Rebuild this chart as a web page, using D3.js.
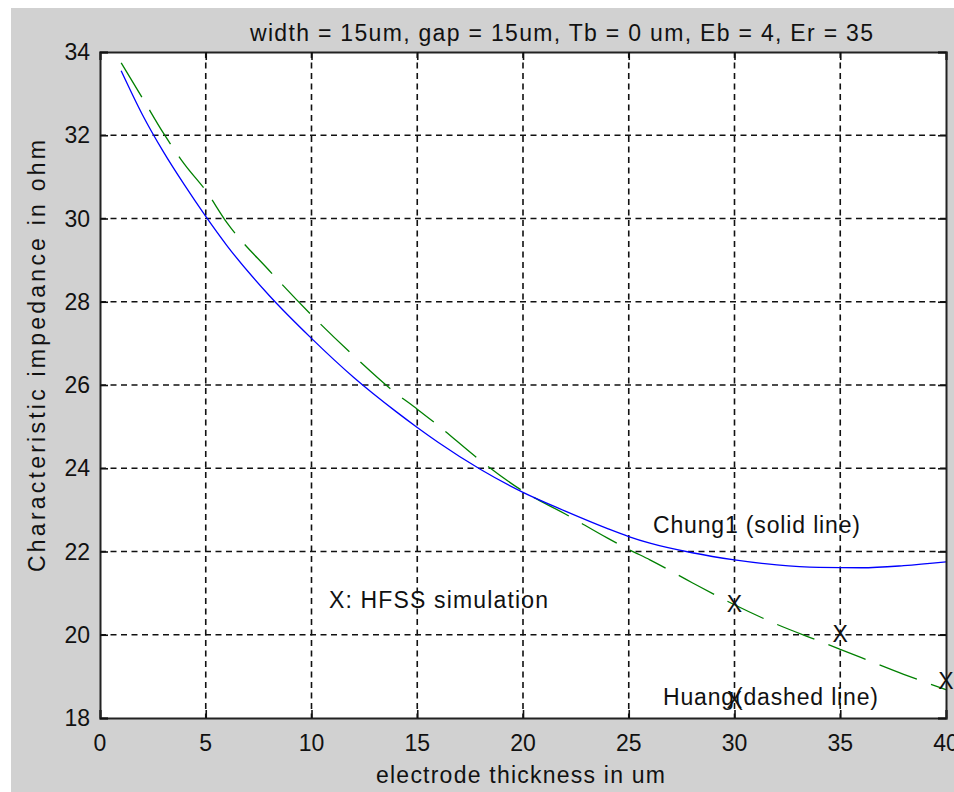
<!DOCTYPE html>
<html>
<head>
<meta charset="utf-8">
<script src="https://cdn.jsdelivr.net/npm/d3@7"></script>
<style>
  html, body { margin: 0; padding: 0; background: #fff; }
  svg { display: block; }
  text { font-family: "Liberation Sans", Arial, sans-serif; fill: #111; }
</style>
</head>
<body>
<svg id="chart"></svg>
<script>
// electrode thickness (um)
const chungX = [1, 2, 3, 4, 5, 6, 8, 10, 12, 14, 15, 16, 18, 20, 22, 24, 25, 26, 28, 30, 32, 34, 36, 38, 40];
const chungZ = [33.55, 32.5, 31.6, 30.8, 30.05, 29.35, 28.15, 27.12, 26.18, 25.36, 24.98, 24.62, 23.97, 23.42, 22.97, 22.55, 22.36, 22.2, 21.97, 21.8, 21.68, 21.62, 21.61, 21.66, 21.75];

const huangX = [1, 2, 3, 4, 5, 6, 8, 10, 12, 14, 15, 16, 18, 20, 22, 24, 25, 26, 28, 30, 32, 34, 35, 36, 38, 40];
const huangZ = [33.74, 32.9, 32.05, 31.3, 30.67, 29.9, 28.75, 27.68, 26.7, 25.8, 25.42, 25.02, 24.18, 23.45, 22.9, 22.32, 22.05, 21.8, 21.25, 20.72, 20.25, 19.85, 19.65, 19.45, 19.05, 18.68];

// HFSS simulation points
const hfssX = [30, 30, 35, 40];
const hfssZ = [20.75, 18.43, 20.03, 18.9];

const xTicks = [0, 5, 10, 15, 20, 25, 30, 35, 40];
const yTicks = [18, 20, 22, 24, 26, 28, 30, 32, 34];

const W = 954, H = 792;
const mLeft = 100, mRight = 946, mTop = 52, mBottom = 718;
const fs = 23;

const svg = d3.select("#chart").attr("width", W).attr("height", H);

svg.append("rect")
  .attr("x", 11).attr("y", 8)
  .attr("width", W - 11).attr("height", H - 8)
  .attr("fill", "#d1d1d1");

const x = d3.scaleLinear().domain([0, 40]).range([mLeft, mRight]);
const y = d3.scaleLinear().domain([18, 34]).range([mBottom, mTop]);

svg.append("rect")
  .attr("x", mLeft).attr("y", mTop)
  .attr("width", mRight - mLeft).attr("height", mBottom - mTop)
  .attr("fill", "#fff");

// grid
const grid = svg.append("g")
  .attr("stroke", "#111")
  .attr("stroke-width", 1.6)
  .attr("stroke-dasharray", "6,4.5");

grid.selectAll(".vg")
  .data(xTicks.slice(1, -1))
  .enter()
  .append("line")
  .attr("x1", d => x(d)).attr("x2", d => x(d))
  .attr("y1", mTop).attr("y2", mBottom);

grid.selectAll(".hg")
  .data(yTicks.slice(1, -1))
  .enter()
  .append("line")
  .attr("y1", d => y(d)).attr("y2", d => y(d))
  .attr("x1", mLeft).attr("x2", mRight);

// curves
const line = d3.line()
  .x(d => x(d[0]))
  .y(d => y(d[1]))
  .curve(d3.curveMonotoneX);

svg.append("path")
  .datum(huangX.map((v, i) => [v, huangZ[i]]))
  .attr("fill", "none")
  .attr("stroke", "#008000")
  .attr("stroke-width", 1.3)
  .attr("stroke-dasharray", "40,15")
  .attr("d", line);

svg.append("path")
  .datum(chungX.map((v, i) => [v, chungZ[i]]))
  .attr("fill", "none")
  .attr("stroke", "#0000ff")
  .attr("stroke-width", 1.3)
  .attr("d", line);

// axes box
const axisG = svg.append("g");

const xAxisB = d3.axisBottom(x).tickValues(xTicks).tickSize(-8).tickFormat("");
const xAxisT = d3.axisTop(x).tickValues(xTicks).tickSize(-8).tickFormat("");
const yAxisL = d3.axisLeft(y).tickValues(yTicks).tickSize(-8).tickFormat("");
const yAxisR = d3.axisRight(y).tickValues(yTicks).tickSize(-8).tickFormat("");

axisG.append("g").attr("transform", `translate(0,${mBottom})`).call(xAxisB);
axisG.append("g").attr("transform", `translate(0,${mTop})`).call(xAxisT);
axisG.append("g").attr("transform", `translate(${mLeft},0)`).call(yAxisL);
axisG.append("g").attr("transform", `translate(${mRight},0)`).call(yAxisR);

axisG.selectAll("path.domain").attr("stroke", "#222").attr("stroke-width", 2);
axisG.selectAll(".tick line").attr("stroke", "#111").attr("stroke-width", 1.6);

// tick labels
svg.selectAll(".xl")
  .data(xTicks)
  .enter()
  .append("text")
  .attr("x", d => x(d))
  .attr("y", 751)
  .attr("text-anchor", "middle")
  .attr("font-size", fs)
  .text(d => d);

svg.selectAll(".yl")
  .data(yTicks)
  .enter()
  .append("text")
  .attr("x", 90)
  .attr("y", d => y(d) + 8)
  .attr("text-anchor", "end")
  .attr("font-size", fs)
  .text(d => d);

// HFSS markers
svg.selectAll(".hfss")
  .data(hfssX.map((v, i) => [v, hfssZ[i]]))
  .enter()
  .append("text")
  .attr("x", d => x(d[0]))
  .attr("y", d => y(d[1]) + 8)
  .attr("text-anchor", "middle")
  .attr("font-size", fs)
  .text("X");

// title and labels
svg.append("text")
  .attr("x", 250).attr("y", 41)
  .attr("font-size", fs)
  .attr("textLength", 623)
  .attr("lengthAdjust", "spacing")
  .text("width = 15um, gap = 15um, Tb = 0 um, Eb = 4, Er = 35");

svg.append("text")
  .attr("x", 376).attr("y", 783)
  .attr("font-size", fs)
  .attr("textLength", 289)
  .attr("lengthAdjust", "spacing")
  .text("electrode thickness in um");

svg.append("text")
  .attr("transform", "translate(45,572) rotate(-90)")
  .attr("font-size", fs)
  .attr("textLength", 432)
  .attr("lengthAdjust", "spacing")
  .text("Characteristic impedance in ohm");

svg.append("text")
  .attr("x", 653).attr("y", 533)
  .attr("font-size", fs)
  .attr("textLength", 207)
  .attr("lengthAdjust", "spacing")
  .text("Chung1 (solid line)");

svg.append("text")
  .attr("x", 329).attr("y", 608)
  .attr("font-size", fs)
  .attr("textLength", 219)
  .attr("lengthAdjust", "spacing")
  .text("X: HFSS simulation");

svg.append("text")
  .attr("x", 663).attr("y", 705)
  .attr("font-size", fs)
  .attr("textLength", 215)
  .attr("lengthAdjust", "spacing")
  .text("Huang(dashed line)");
</script>
</body>
</html>
